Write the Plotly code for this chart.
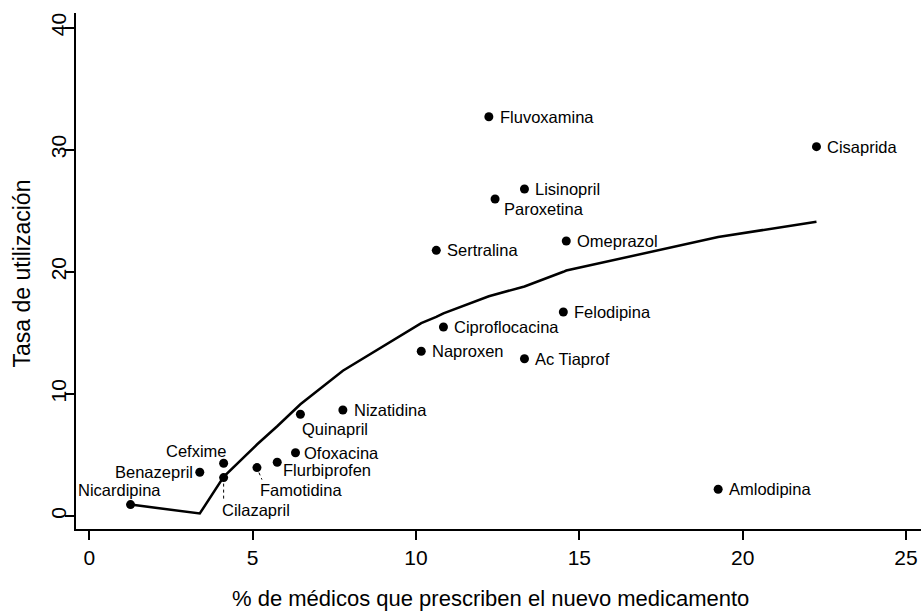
import plotly.graph_objects as go

# Nuevos medicamentos: % de médicos que los prescriben y tasa de utilización
medicamentos = ["Nicardipina", "Benazepril", "Cefxime", "Cilazapril", "Famotidina",
                "Flurbiprofen", "Ofoxacina", "Quinapril", "Nizatidina", "Naproxen",
                "Ciproflocacina", "Sertralina", "Fluvoxamina", "Paroxetina", "Lisinopril",
                "Ac Tiaprof", "Felodipina", "Omeprazol", "Amlodipina", "Cisaprida"]
pct_medicos = [1.26, 3.38, 4.11, 4.11, 5.13,
               5.75, 6.31, 6.46, 7.76, 10.16,
               10.84, 10.62, 12.23, 12.42, 13.32,
               13.32, 14.51, 14.60, 19.25, 22.26]
tasa_uso = [0.93, 3.58, 4.32, 3.14, 3.96,
            4.40, 5.18, 8.33, 8.68, 13.49,
            15.48, 21.76, 32.70, 25.96, 26.78,
            12.88, 16.71, 22.52, 2.19, 30.25]
# Valores ajustados (curva suavizada) en cada medicamento
ajuste = [0.93, 0.20, 3.20, 3.20, 5.85,
          7.35, 8.75, 9.15, 11.90, 15.80,
          16.60, 16.30, 18.00, 18.15, 18.80,
          18.80, 20.00, 20.10, 22.85, 24.10]

x_ticks = [0, 5, 10, 15, 20, 25]
y_ticks = [0, 10, 20, 30, 40]

FONT = "Liberation Sans, Arial, Helvetica, sans-serif"

# Colocación de cada etiqueta: (xanchor, yanchor, desplazamiento x, desplazamiento y) en px
pos_etiqueta = {
    "Nicardipina": ("center", "middle", -11, 15),
    "Benazepril": ("right", "middle", -5, 0),
    "Cefxime": ("right", "middle", 5, 12),
    "Cilazapril": ("left", "middle", -4, -32),
    "Famotidina": ("left", "middle", 1, -22),
    "Flurbiprofen": ("left", "middle", 4, -8),
    "Ofoxacina": ("left", "middle", 6, 0),
    "Quinapril": ("left", "middle", 0, -15),
    "Paroxetina": ("left", "middle", 7, -10),
}
por_defecto = ("left", "middle", 9, 0)

# Trazos discontinuos que unen algunas etiquetas con su punto (px relativos al punto)
conectores = {
    "Cilazapril": (0, -6, 0, -21),
    "Famotidina": (2, -5, 5, -12),
}

orden = sorted(range(len(pct_medicos)), key=lambda i: (pct_medicos[i], ajuste[i]))
linea_x = []
linea_y = []
for i in orden:
    if linea_x and linea_x[-1] == pct_medicos[i]:
        continue
    linea_x.append(pct_medicos[i])
    linea_y.append(ajuste[i])

fig = go.Figure()
fig.add_trace(go.Scatter(
    x=linea_x, y=linea_y, mode="lines",
    line=dict(color="black", width=2.5),
    hoverinfo="skip", showlegend=False,
))
fig.add_trace(go.Scatter(
    x=pct_medicos, y=tasa_uso, mode="markers",
    marker=dict(color="black", size=9),
    text=medicamentos, showlegend=False,
))

for nombre, xv, yv in zip(medicamentos, pct_medicos, tasa_uso):
    xa, ya, dx, dy = pos_etiqueta.get(nombre, por_defecto)
    fig.add_annotation(
        x=xv, y=yv, xref="x", yref="y", text=nombre, showarrow=False,
        xanchor=xa, yanchor=ya, xshift=dx, yshift=dy,
        font=dict(family=FONT, size=16.5, color="black"),
    )
    if nombre in conectores:
        x0, y0, x1, y1 = conectores[nombre]
        fig.add_shape(
            type="line", xref="x", yref="y",
            xsizemode="pixel", ysizemode="pixel", xanchor=xv, yanchor=yv,
            x0=x0, y0=y0, x1=x1, y1=y1,
            line=dict(color="black", width=1, dash="dot"),
        )

fig.add_annotation(
    text="% de médicos que prescriben el nuevo medicamento",
    xref="paper", yref="paper", x=0.49, y=-0.135, xanchor="center", yanchor="middle",
    showarrow=False, font=dict(family=FONT, size=22, color="black"),
)
fig.add_annotation(
    text="Tasa de utilización", textangle=-90,
    xref="paper", yref="paper", x=-0.064, y=0.495, xanchor="center", yanchor="middle",
    showarrow=False, font=dict(family=FONT, size=23, color="black"),
)

fig.update_layout(
    width=921, height=611,
    margin=dict(l=76, r=0, t=13, b=82),
    paper_bgcolor="white", plot_bgcolor="white",
    font=dict(family=FONT, color="black"),
    showlegend=False,
)
fig.update_xaxes(
    range=[-0.41, 25.46], tickvals=x_ticks, ticktext=[str(v) for v in x_ticks],
    showgrid=False, zeroline=False, showline=True, linecolor="black", linewidth=1.5,
    ticks="outside", ticklen=9, tickwidth=1.5, tickcolor="black",
    tickfont=dict(family=FONT, size=21, color="black"),
)
fig.update_yaxes(
    range=[-1.07, 41.2], tickvals=y_ticks, ticktext=[str(v) for v in y_ticks],
    showgrid=False, zeroline=False, showline=True, linecolor="black", linewidth=1.5,
    ticks="outside", ticklen=9, tickwidth=1.5, tickcolor="black", tickangle=-90,
    ticklabelstandoff=-9,
    tickfont=dict(family=FONT, size=21, color="black"),
)

fig.write_html("out.html")
